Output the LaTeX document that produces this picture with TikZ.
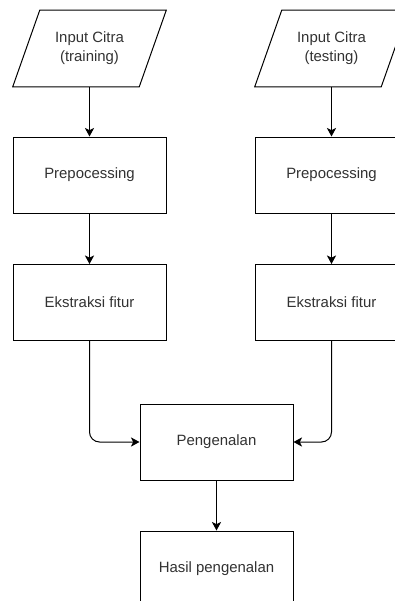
\documentclass[tikz,border=0pt]{standalone}
\usepackage{fontspec}
\setmainfont{Liberation Sans}
\usetikzlibrary{arrows.meta}
\definecolor{txt}{RGB}{50,50,50}
\tikzset{
  box/.style={draw=black, line width=0.75pt, fill=white, minimum width=114.75pt, minimum height=57pt, inner sep=0pt, text=txt, font=\fontsize{11.2pt}{14.2pt}\selectfont, align=center},
  iobox/.style={minimum width=94.5pt, minimum height=57pt, inner sep=0pt, text=txt, font=\fontsize{11.2pt}{14.2pt}\selectfont, align=center},
  para/.style={draw=black, line width=0.75pt, line join=miter},
  conn/.style={draw=black, line width=0.75pt, -{Stealth[length=6.5pt,width=7pt,inset=1.8pt]}},
}
\begin{document}
\begin{tikzpicture}[x=0.75pt,y=-0.75pt]
\useasboundingbox (0,0) rectangle (395,601);
% input parallelograms
\node[iobox] (in1) at (89.5,48.5) {Input Citra\\(training)};
\node[iobox] (in2) at (331.5,48.5) {Input Citra\\(testing)};
\foreach \n in {in1,in2}{
  \draw[para] ([xshift=10.125pt]\n.north west) -- ([xshift=10.125pt]\n.north east)
    -- ([xshift=-10.125pt]\n.south east) -- ([xshift=-10.125pt]\n.south west) -- cycle;
}
% process boxes
\node[box] (pre1) at (89.5,175) {Prepocessing};
\node[box] (pre2) at (331.5,175) {Prepocessing};
\node[box] (eks1) at (89.5,302.5) {Ekstraksi fitur};
\node[box] (eks2) at (331.5,302.5) {Ekstraksi fitur};
\node[box] (pen) at (216.5,442) {Pengenalan};
\node[box] (has) at (216.5,569) {Hasil pengenalan};
% connectors
\draw[conn] (in1) -- (pre1);
\draw[conn] (in2) -- (pre2);
\draw[conn] (pre1) -- (eks1);
\draw[conn] (pre2) -- (eks2);
\draw[conn, rounded corners=7.5pt] (eks1.south) |- (pen.west);
\draw[conn, rounded corners=7.5pt] (eks2.south) |- (pen.east);
\draw[conn] (pen) -- (has);
\end{tikzpicture}
\end{document}
